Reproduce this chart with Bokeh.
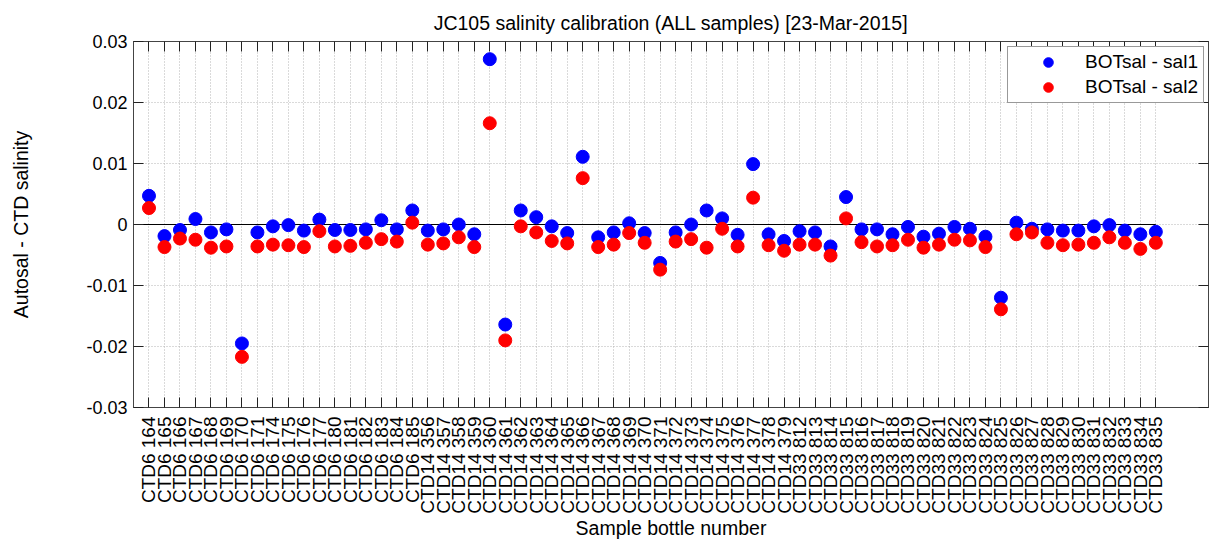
import math
from bokeh.plotting import figure
from bokeh.models import (Range1d, FixedTicker, LinearAxis, Legend, LegendItem,
                          ColumnDataSource)
from bokeh.embed import file_html
from bokeh.resources import INLINE

# ---------------- data ----------------
ctd6_bottles = [164, 165, 166, 167, 168, 169, 170, 171, 174, 175, 176, 177,
                180, 181, 182, 183, 184, 185]
ctd14_bottles = list(range(356, 380))
ctd33_bottles = list(range(812, 836))

labels = ([f"CTD6 {b}" for b in ctd6_bottles] +
          [f"CTD14 {b}" for b in ctd14_bottles] +
          [f"CTD33 {b}" for b in ctd33_bottles])

sal1 = [0.0047, -0.0019, -0.0009, 0.0009, -0.0013, -0.0008, -0.0195, -0.0013,
        -0.0003, -0.0001, -0.0010, 0.0008, -0.0009, -0.0009, -0.0008, 0.0007,
        -0.0008, 0.0023,
        -0.0010, -0.0008, 0.0000, -0.0016, 0.0271, -0.0164, 0.0023, 0.0012,
        -0.0003, -0.0014, 0.0111, -0.0021, -0.0013, 0.0002, -0.0014, -0.0063,
        -0.0013, 0.0000, 0.0023, 0.0010, -0.0017, 0.0099, -0.0016, -0.0027,
        -0.0011, -0.0013, -0.0036, 0.0045, -0.0008, -0.0008, -0.0016, -0.0004,
        -0.0020, -0.0015, -0.0004, -0.0007, -0.0020, -0.0120, 0.0003, -0.0007,
        -0.0008, -0.0010, -0.0010, -0.0003, -0.0001, -0.0010, -0.0016, -0.0012]

sal2 = [0.0027, -0.0037, -0.0023, -0.0025, -0.0038, -0.0036, -0.0217, -0.0036,
        -0.0033, -0.0034, -0.0037, -0.0011, -0.0036, -0.0035, -0.0030, -0.0024,
        -0.0028, 0.0003,
        -0.0033, -0.0031, -0.0021, -0.0037, 0.0166, -0.0190, -0.0003, -0.0013,
        -0.0027, -0.0031, 0.0076, -0.0037, -0.0033, -0.0014, -0.0030, -0.0074,
        -0.0028, -0.0024, -0.0038, -0.0007, -0.0036, 0.0044, -0.0034, -0.0043,
        -0.0033, -0.0033, -0.0051, 0.0010, -0.0029, -0.0036, -0.0034, -0.0025,
        -0.0038, -0.0033, -0.0025, -0.0026, -0.0037, -0.0139, -0.0016, -0.0013,
        -0.0030, -0.0034, -0.0033, -0.0030, -0.0021, -0.0030, -0.0040, -0.0030]

y_ticks = [-0.03, -0.02, -0.01, 0.0, 0.01, 0.02, 0.03]
y_tick_labels = ["-0.03", "-0.02", "-0.01", "0", "0.01", "0.02", "0.03"]

title = "JC105 salinity calibration (ALL samples) [23-Mar-2015]"
xlabel = "Sample bottle number"
ylabel = "Autosal - CTD salinity"
series_names = ["BOTsal - sal1", "BOTsal - sal2"]

# ---------------- plot ----------------
FONT = "Liberation Sans"
n = len(labels)
xs = list(range(1, n + 1))
src = ColumnDataSource(dict(x=xs, s1=sal1, s2=sal2))

p = figure(width=1217, height=541, output_backend="svg", toolbar_location=None,
           x_range=Range1d(0, 69.4), y_range=Range1d(-0.03, 0.03),
           min_border_left=133, min_border_right=9, min_border_top=41,
           min_border_bottom=132, title=title)

p.title.text_font = FONT
p.title.text_font_size = "19.5px"
p.title.text_font_style = "normal"
p.title.align = "center"
p.title.text_color = "#000000"
p.title.standoff = 16

p.outline_line_color = "#444444"
p.outline_line_width = 1
p.background_fill_color = "white"
p.border_fill_color = "white"

xt = FixedTicker(ticks=xs)
yt = FixedTicker(ticks=y_ticks)

# bottom axis
xa = p.xaxis[0]
xa.ticker = xt
xa.major_label_overrides = {i: lab for i, lab in zip(xs, labels)}
xa.major_label_orientation = math.pi / 2
xa.major_label_text_font = FONT
xa.major_label_text_font_size = "19px"
xa.major_label_text_color = "#000000"
xa.major_label_standoff = 9
xa.major_tick_in = 10
xa.major_tick_out = 0
xa.minor_tick_line_color = None
xa.axis_line_color = "#444444"
xa.major_tick_line_color = "#222222"
xa.axis_label = xlabel
xa.axis_label_text_font = FONT
xa.axis_label_text_font_size = "19.5px"
xa.axis_label_text_font_style = "normal"
xa.axis_label_text_color = "#000000"
xa.axis_label_standoff = 0

# left axis
ya = p.yaxis[0]
ya.ticker = yt
ya.major_label_overrides = {v: s for v, s in zip(y_ticks, y_tick_labels)}
ya.major_label_text_font = FONT
ya.major_label_text_font_size = "18px"
ya.major_label_text_color = "#000000"
ya.major_label_standoff = 6
ya.major_tick_in = 10
ya.major_tick_out = 0
ya.minor_tick_line_color = None
ya.axis_line_color = "#444444"
ya.major_tick_line_color = "#222222"
ya.axis_label = ylabel
ya.axis_label_text_font = FONT
ya.axis_label_text_font_size = "19.5px"
ya.axis_label_text_font_style = "normal"
ya.axis_label_text_color = "#000000"
ya.axis_label_standoff = 51

# top axis (ticks only)
ta = LinearAxis(ticker=xt, major_label_text_font_size="0px",
                major_label_standoff=0, major_tick_in=10, major_tick_out=0,
                minor_tick_line_color=None, axis_line_color="#444444",
                major_tick_line_color="#222222")
p.add_layout(ta, "above")

# right axis (ticks only)
ra = LinearAxis(ticker=yt, major_label_text_font_size="0px",
                major_label_standoff=0, major_tick_in=10, major_tick_out=0,
                minor_tick_line_color=None, axis_line_color="#444444",
                major_tick_line_color="#222222")
p.add_layout(ra, "right")

# grids
p.xgrid.ticker = xt
p.ygrid.ticker = yt
for g in (p.xgrid, p.ygrid):
    g.grid_line_color = "#b4b4b4"
    g.grid_line_dash = "1 2"
    g.grid_line_width = 1

# zero line
p.line(x=[0, n], y=[0, 0], line_color="black", line_width=1)

r1 = p.scatter("x", "s1", source=src, size=13, fill_color="#0000ff",
               line_color="#0000ff", marker="circle")
r2 = p.scatter("x", "s2", source=src, size=13, fill_color="#ff0000",
               line_color="#ff0000", marker="circle")

legend = Legend(items=[LegendItem(label=series_names[0], renderers=[r1]),
                       LegendItem(label=series_names[1], renderers=[r2])],
                location=(874, 304), padding=3, spacing=1,
                glyph_width=74, glyph_height=24, label_standoff=0,
                label_width=115,
                label_text_font=FONT, label_text_font_size="19px",
                label_text_color="#000000",
                border_line_color="#333333", border_line_width=1,
                background_fill_alpha=1.0, margin=0)
p.add_layout(legend, "center")

open("out.html", "w").write(file_html(p, INLINE))
